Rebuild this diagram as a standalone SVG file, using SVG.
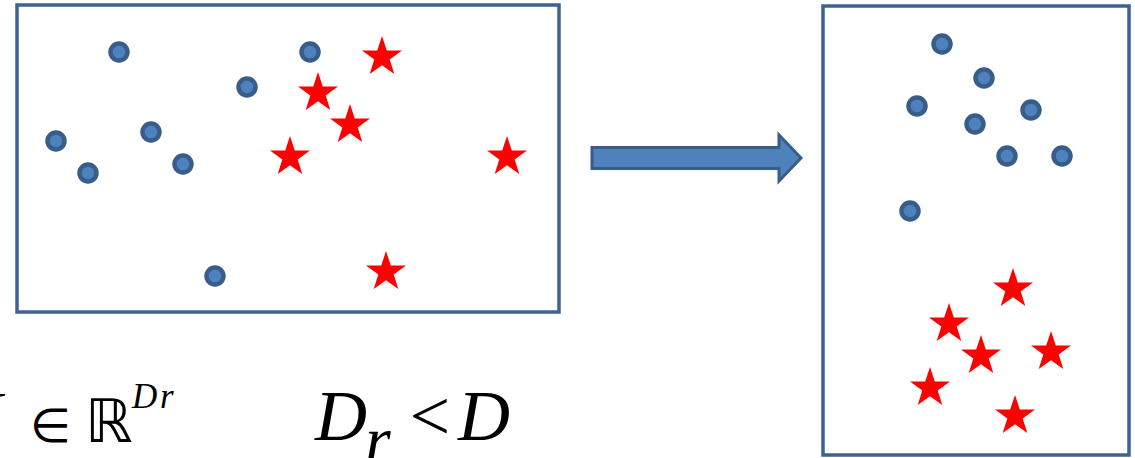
<svg xmlns="http://www.w3.org/2000/svg" width="1135" height="458" viewBox="0 0 1135 458">
<style>
.box{fill:none;stroke:#3E6291;stroke-width:3.5}
.dot{fill:#4F81BD;stroke:#385D8A;stroke-width:4.5}
.star{fill:#FF0000}
.math{font-family:"Liberation Serif",serif;font-style:italic;fill:#000}
.sym{font-family:"DejaVu Sans","Liberation Sans",sans-serif;fill:#000}
</style>
<defs>
<circle id="d" r="8.5" class="dot"/>
<polygon id="s" class="star" points="0,-21 4.8,-6.6 20,-6.5 7.7,2.5 12.3,17 0,8.2 -12.3,17 -7.7,2.5 -20,-6.5 -4.8,-6.6"/>
</defs>
<g id="left-box">
<rect class="box" x="17" y="5" width="542" height="307"/>
<use href="#d" x="119" y="52"/><use href="#d" x="310" y="52"/><use href="#d" x="247" y="87"/>
<use href="#d" x="56" y="141"/><use href="#d" x="151" y="132"/><use href="#d" x="88" y="173"/>
<use href="#d" x="183" y="164"/><use href="#d" x="215" y="276"/>
<use href="#s" x="382" y="57"/><use href="#s" x="318" y="93"/><use href="#s" x="350" y="125"/>
<use href="#s" x="290" y="157"/><use href="#s" x="507" y="157"/><use href="#s" x="386" y="272"/>
</g>
<g id="right-box">
<rect class="box" x="823" y="6" width="306" height="449"/>
<use href="#d" x="942" y="44"/><use href="#d" x="984" y="78"/><use href="#d" x="917" y="106"/>
<use href="#d" x="1031" y="110"/><use href="#d" x="975" y="124"/><use href="#d" x="1007" y="156"/>
<use href="#d" x="1062" y="156"/><use href="#d" x="910" y="211"/>
<use href="#s" x="1013" y="289"/><use href="#s" x="949" y="324"/><use href="#s" x="981" y="356"/>
<use href="#s" x="1051" y="352"/><use href="#s" x="930" y="388"/><use href="#s" x="1015" y="416"/>
</g>
<g id="connectors">
<polygon points="592,147.5 779,147.5 779,135 801,158 779,181 779,168.5 592,168.5" fill="#4F81BD" stroke="#385D8A" stroke-width="3" stroke-linejoin="miter"/>
</g>
<g id="labels">
<text class="math" x="-40" y="440" font-size="70">Y</text>
<text class="sym" x="30" y="442" font-size="47">∈</text>
<text class="sym" x="85" y="442" font-size="60">ℝ</text>
<text class="math" x="132" y="408" font-size="35">D</text>
<text class="math" x="160" y="408" font-size="35">r</text>
<text class="math" x="315" y="440" font-size="72">D</text>
<text class="math" x="365" y="462" font-size="66">r</text>
<text class="math" x="405" y="440" font-size="72" font-style="normal">&lt;</text>
<text class="math" x="458" y="440" font-size="72">D</text>
</g>
</svg>
